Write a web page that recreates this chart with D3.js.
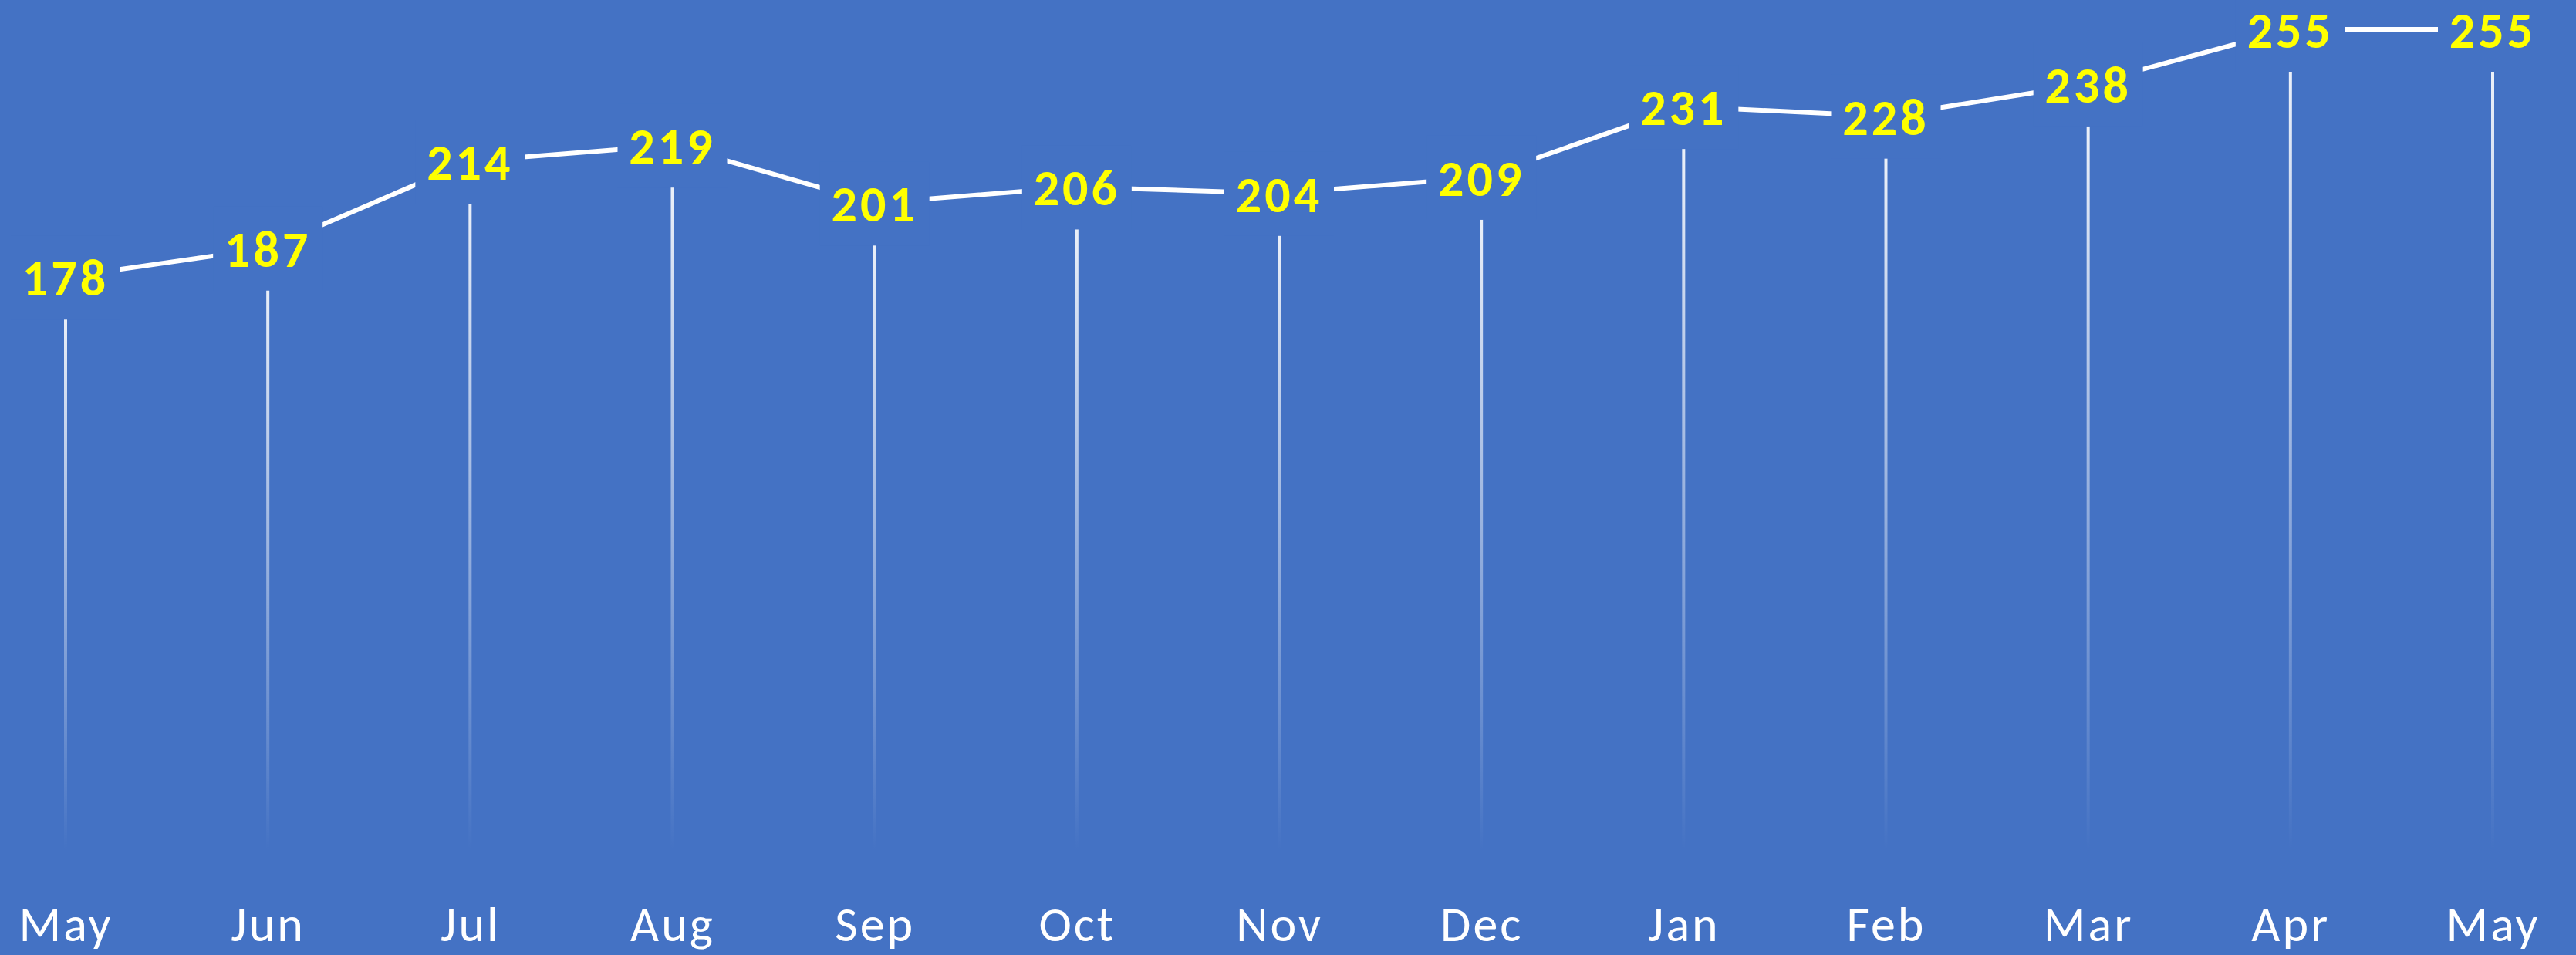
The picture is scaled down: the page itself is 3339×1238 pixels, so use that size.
<!DOCTYPE html>
<html>
<head>
<meta charset="utf-8">
<script src="https://cdnjs.cloudflare.com/ajax/libs/d3/7.8.5/d3.min.js"></script>
<style>
  html, body { margin: 0; padding: 0; background: #4472C4; overflow: hidden; }
</style>
</head>
<body>
<svg id="chart" width="3339" height="1238"></svg>
<script>
  // chart data
  let months = ["May", "Jun", "Jul", "Aug", "Sep", "Oct", "Nov", "Dec", "Jan", "Feb", "Mar", "Apr", "May"];
  let values = [178, 187, 214, 219, 201, 206, 204, 209, 231, 228, 238, 255, 255];

  let svg = d3.select("#chart"),
    width = +svg.attr("width"),
    height = +svg.attr("height");
  let bg = "#4472C4";
  let labelFont = "Calibri, Carlito, Lato, 'Open Sans', sans-serif";

  svg.append("rect").attr("width", width).attr("height", height).attr("fill", bg);

  let idx = d3.range(months.length);
  let x = d3.scalePoint().domain(idx).range([85, 3231]);
  let y = d3.scaleLinear().domain([0, 255]).range([1102, 38]);

  // fading drop lines
  let grad = svg.append("defs").append("linearGradient")
    .attr("id", "dropFade")
    .attr("x1", 0).attr("y1", 0).attr("x2", 0).attr("y2", 1);
  grad.append("stop").attr("offset", "0%").attr("stop-color", "#fff").attr("stop-opacity", 0.95);
  grad.append("stop").attr("offset", "100%").attr("stop-color", "#fff").attr("stop-opacity", 0);

  svg.append("g").selectAll("rect")
    .data(idx)
    .enter()
    .append("rect")
    .attr("x", function(i){ return x(i) - 2; })
    .attr("y", function(i){ return y(values[i]); })
    .attr("width", 4)
    .attr("height", function(i){ return y(0) - y(values[i]); })
    .attr("fill", "url(#dropFade)");

  // main line
  let line = d3.line()
    .x(function(i){ return x(i); })
    .y(function(i){ return y(values[i]); });

  svg.append("path")
    .datum(idx)
    .attr("d", line)
    .attr("fill", "none")
    .attr("stroke", "#fff")
    .attr("stroke-width", 6)
    .attr("stroke-linejoin", "round");

  // data labels sit on a background-coloured box that hides the line ends
  let labels = svg.append("g").selectAll("g")
    .data(idx)
    .enter()
    .append("g")
    .attr("transform", function(i){ return "translate(" + x(i) + "," + y(values[i]) + ")"; });

  labels.append("rect")
    .attr("x", -71)
    .attr("y", -54)
    .attr("width", 142)
    .attr("height", 109)
    .attr("fill", bg);

  labels.append("text")
    .attr("y", 24)
    .attr("text-anchor", "middle")
    .attr("fill", "#FFFF00")
    .style("font-family", labelFont)
    .style("font-weight", "bold")
    .style("font-size", "66px")
    .style("letter-spacing", "4px")
    .text(function(i){ return values[i]; });

  // month axis
  let xAxis = d3.axisBottom(x)
    .tickSize(0)
    .tickPadding(0)
    .tickFormat(function(i){ return months[i]; });

  let axisG = svg.append("g")
    .attr("transform", "translate(0,1220)")
    .call(xAxis);
  axisG.select(".domain").remove();
  axisG.selectAll("text")
    .attr("dy", 0)
    .attr("y", 0)
    .attr("fill", "#fff")
    .style("font-family", labelFont)
    .style("font-size", "64px")
    .style("letter-spacing", "3px");
</script>
</body>
</html>
